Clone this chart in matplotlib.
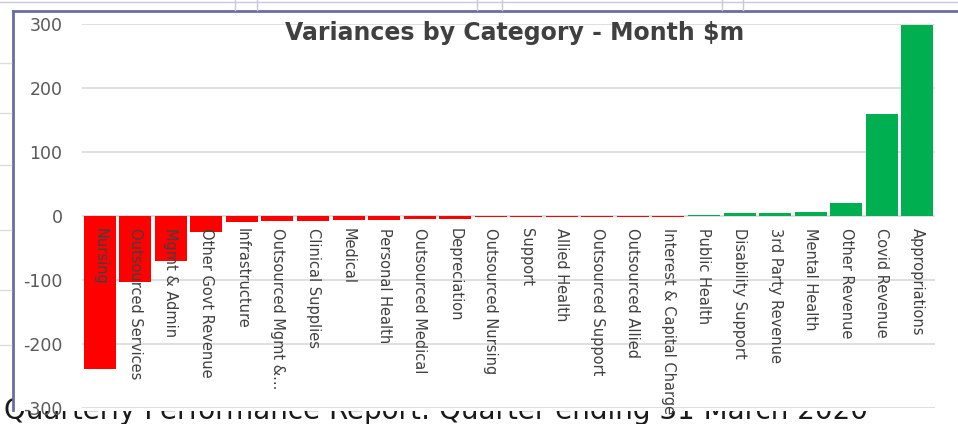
import numpy as np
import matplotlib
matplotlib.use("Agg")
import matplotlib.pyplot as plt
from matplotlib.lines import Line2D
from matplotlib.patches import Rectangle

categories = ["Nursing", "Outsourced Services", "Mgmt & Admin", "Other Govt Revenue",
              "Infrastructure", "Outsourced Mgmt &...", "Clinical Supplies", "Medical",
              "Personal Health", "Outsourced Medical", "Depreciation", "Outsourced Nursing",
              "Support", "Allied Health", "Outsourced Support", "Outsourced Allied",
              "Interest & Capital Charge", "Public Health", "Disability Support",
              "3rd Party Revenue", "Mental Health", "Other Revenue", "Covid Revenue",
              "Appropriations"]
variance = [-239, -103, -70, -25, -9, -8, -8, -6, -6, -4, -4, -2,
            -2, -2, -2, -2, -2, 2, 4, 4, 6, 21, 159, 298]
yticks = [-300, -200, -100, 0, 100, 200, 300]

W, H = 958, 424
fig = plt.figure(figsize=(W / 100, H / 100), dpi=100)

# page caption sits behind the chart, only its top shows below it
fig.text(4 / W, 1 - 397 / H, "Quarterly Performance Report: Quarter ending 31 March 2020",
         ha="left", va="top", fontsize=20, color="#1a1a1a", zorder=-3)
fig.add_artist(Rectangle((13 / W, 1 - 411 / H), 1 - 13 / W, 400 / H,
                         transform=fig.transFigure, facecolor="white",
                         edgecolor="none", zorder=-2))

ax = fig.add_axes([82 / W, 1 - 408 / H, 853 / W, 384 / H])
ax.patch.set_alpha(0)

x = np.arange(len(categories))
colors = ["#FF0000" if v < 0 else "#00B050" for v in variance]
ax.bar(x, variance, width=0.9, color=colors, zorder=2)

ax.set_xlim(-0.5, len(categories) - 0.5)
ax.set_ylim(-300, 300)
ax.set_yticks(yticks)
ax.set_yticklabels([str(t) for t in yticks], fontsize=12.5, color="#595959")
ax.tick_params(axis="y", length=0, pad=14)
ax.set_xticks([])
ax.grid(axis="y", color="#d9d9d9", linewidth=1.2, zorder=0)
for s in ax.spines.values():
    s.set_visible(False)

# category labels hang just below the zero line
for i, name in enumerate(categories):
    ax.annotate(name, xy=(i, 0), xytext=(0, -9), textcoords="offset points",
                rotation=-90, ha="center", va="top", fontsize=10.5,
                family=["Liberation Sans Narrow", "DejaVu Sans"], color="#404040",
                zorder=3)

fig.text(515 / W, 1 - 33 / H, "Variances by Category - Month $m", ha="center",
         va="center", fontsize=17, fontweight="bold", color="#404040")

# spreadsheet frame around the chart
frame = "#6b6ba8"
fig.add_artist(Line2D([13 / W, 1], [1 - 11 / H, 1 - 11 / H], color=frame, lw=2))
fig.add_artist(Line2D([13 / W, 13 / W], [1 - 11 / H, 1 - 410 / H], color=frame, lw=2))
fig.add_artist(Line2D([0, 1], [1 - 1.5 / H, 1 - 1.5 / H], color="#c8c8dc", lw=1))
for cx in [235, 257, 477, 502, 722, 743]:
    fig.add_artist(Line2D([cx / W, cx / W], [1, 1 - 10 / H], color="#c8c8dc", lw=1))
for cy in [63, 113, 165, 230, 290, 345]:
    fig.add_artist(Line2D([0, 11 / W], [1 - cy / H, 1 - cy / H], color="#dcdcdc", lw=1))

fig.savefig("out.png", dpi=100)
